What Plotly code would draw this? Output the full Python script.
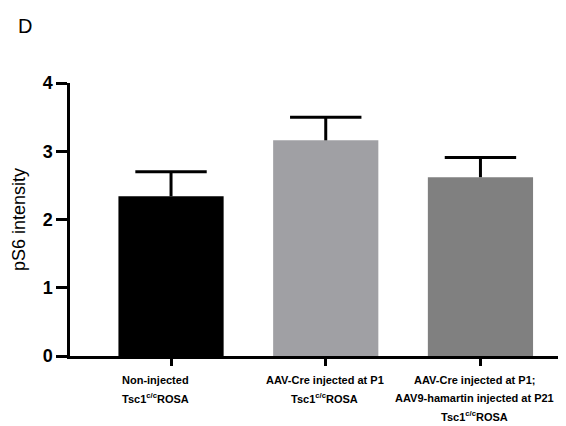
import plotly.graph_objects as go

categories = ["Non-injected", "AAV-Cre P1", "AAV-Cre P1; AAV9-hamartin P21"]
label_lines = [
    ["Non-injected", "Tsc1<sup>c/c</sup>ROSA"],
    ["AAV-Cre injected at P1", "Tsc1<sup>c/c</sup>ROSA"],
    ["AAV-Cre injected at P1;", "AAV9-hamartin injected at P21", "Tsc1<sup>c/c</sup>ROSA"],
]
label_xshift = [-16, -1, -6]
values = [2.34, 3.16, 2.62]
errors = [0.36, 0.34, 0.29]
colors = ["#000000", "#a0a0a4", "#808080"]
yticks = [0, 1, 2, 3, 4]

xpos = list(range(len(categories)))
tops = [v + e for v, e in zip(values, errors)]

# page body has an 8px margin; figure is sized/offset to compensate
OFF = 8
W, H = 566 - OFF, 426 - OFF
L, R, T, B = 70 - OFF, 2, 83 - OFF, 70
PW, PH = W - L - R, H - T - B

fig = go.Figure()
fig.add_trace(go.Bar(x=xpos, y=values, marker=dict(color=colors, line=dict(width=0)),
                     width=0.68, showlegend=False, hoverinfo="skip"))
fig.add_trace(go.Scatter(
    x=xpos, y=tops, mode="markers",
    marker=dict(symbol="line-ew", size=51, line=dict(width=3, color="black")),
    error_y=dict(type="data", symmetric=False, array=[0] * 3, arrayminus=errors,
                 width=0, thickness=3, color="black"),
    showlegend=False, hoverinfo="skip"))

annotations = []
for i, lines in enumerate(label_lines):
    for j, t in enumerate(lines):
        annotations.append(dict(
            x=i, y=0, xref="x", yref="y", text=t, showarrow=False,
            xanchor="center", yanchor="middle",
            xshift=label_xshift[i],
            yshift=-24 - 18 * j,
            font=dict(family="Liberation Sans, Arial", size=11, color="black", weight="bold")))
# panel letter
annotations.append(dict(
    x=(25 - 70) / PW, y=(356 - 26) / PH, xref="paper", yref="paper", text="D",
    showarrow=False, xanchor="center", yanchor="middle",
    font=dict(family="Liberation Sans, Arial", size=20, color="black")))

fig.update_layout(
    width=W, height=H,
    margin=dict(l=L, r=R, t=T, b=B, autoexpand=False),
    plot_bgcolor="white", paper_bgcolor="white",
    xaxis=dict(range=[-0.653, 2.54], tickvals=xpos, showticklabels=False,
               showline=True, linecolor="black", linewidth=2.5,
               ticks="outside", ticklen=7, tickwidth=2.5, tickcolor="black",
               showgrid=False, zeroline=False),
    yaxis=dict(range=[0, 4], tickvals=yticks,
               showline=True, linecolor="black", linewidth=2.5,
               ticks="outside", ticklen=11, tickwidth=2.5, tickcolor="black",
               tickfont=dict(family="Liberation Sans, Arial", size=18, color="black", weight="bold"),
               showgrid=False, zeroline=False,
               title=dict(text="pS6 intensity", standoff=13,
                          font=dict(family="Liberation Sans Narrow, Arial Narrow, Liberation Sans",
                                    size=18, color="black"))),
    annotations=annotations,
)

fig.write_html("out.html")
